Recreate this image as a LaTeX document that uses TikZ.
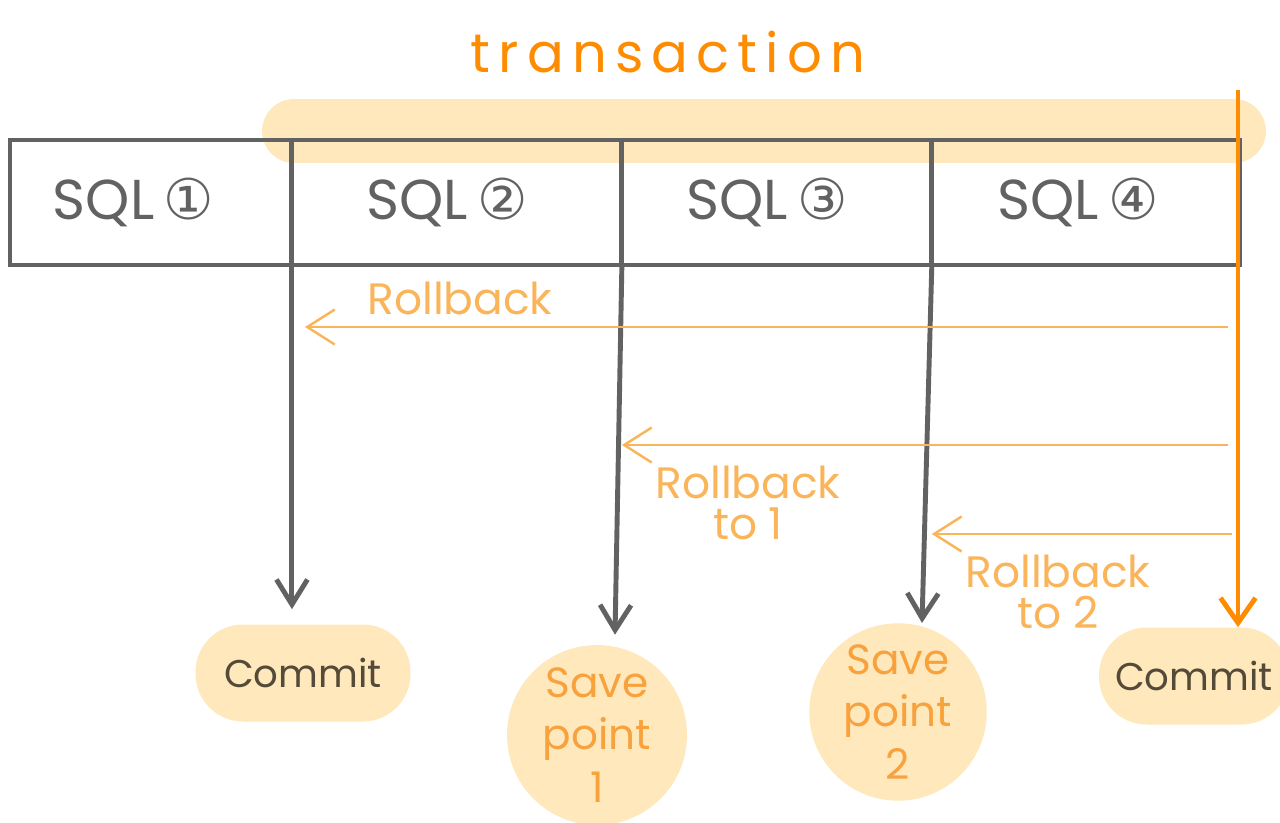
\documentclass[tikz,border=0pt]{standalone}
\usepackage{fontspec}
\setmainfont{Poppins}
\newfontfamily\titlefont[LetterSpace=15]{Poppins}
\newfontfamily\circfont{DejaVu Sans}
\usepackage{xcolor}
\usepackage{tikz}
\usetikzlibrary{arrows.meta,positioning,calc}
\definecolor{sqlgray}    {RGB}{98,98,98}
\definecolor{bandyellow} {RGB}{254,232,188}
\definecolor{txorange}   {RGB}{255,140,0}
\definecolor{rbkorange}  {RGB}{250,180,90}
\definecolor{saveorange} {RGB}{248,162,62}
\definecolor{commitbrown}{RGB}{84,74,56}
\tikzset{
  sqlcell/.style   ={draw=sqlgray, line width=2.8pt, outer sep=0pt,
                     minimum height=2.5cm, minimum width=#1, inner sep=0pt,
                     text=sqlgray, font=\fontsize{32}{36}\selectfont},
  sqlcell/.default =6cm,
  txband/.style    ={fill=bandyellow, rounded corners=0.64cm,
                     minimum width=20.08cm, minimum height=1.28cm, inner sep=0pt},
  commitblob/.style={fill=bandyellow, rounded corners=0.95cm,
                     minimum width=#1, minimum height=1.94cm,
                     text=commitbrown, font=\fontsize{22}{26}\selectfont},
  commitblob/.default=4.3cm,
  saveblob/.style  ={circle, fill=bandyellow, inner sep=0pt,
                     minimum size=#1, align=center,
                     text=saveorange, font=\fontsize{24}{30}\selectfont},
  saveblob/.default=3.6cm,
  rbklabel/.style  ={text=rbkorange, align=center, inner sep=0pt,
                     font=\fontsize{25}{23}\selectfont},
  sqlarr/.style    ={-{Straight Barb[length=0.5cm,width=0.62cm]},
                     line width=2.8pt, draw=sqlgray},
  txarr/.style     ={-{Straight Barb[length=0.5cm,width=0.7cm]},
                     line width=2.8pt, draw=txorange},
  rbkarr/.style    ={-{Straight Barb[length=0.55cm,width=0.7cm]},
                     line width=1.4pt, draw=rbkorange},
}

\begin{document}
\begin{tikzpicture}[x=0.02cm, y=-0.02cm, node distance=0pt]
  \useasboundingbox (0,0) rectangle (1280,822);
  \clip (0,0) rectangle (1280,822);
  %% transaction band and title
  \node[txband] (band) at (764,131) {};
  \node[text=txorange, font=\titlefont\fontsize{31}{36}\selectfont] (title) at (668,52) {transaction};
  %% statements
  \node[sqlcell=5.64cm, anchor=north west] (sql1) at (10,140) {SQL\,{\circfont ①}\kern0.7cm};
  \node[sqlcell=6.6cm,  right=of sql1] (sql2) {SQL\,{\circfont ②}\kern0.4cm};
  \node[sqlcell=6.2cm,  right=of sql2] (sql3) {SQL\,{\circfont ③}\kern0.4cm};
  \node[sqlcell=6.16cm, right=of sql3] (sql4) {SQL\,{\circfont ④}\kern0.3cm};
  %% outcomes
  \node[commitblob] (commitA) at (303,673) {Commit};
  \node[saveblob] (saveA) at (597,735) {Save\\point\\1};
  \node[saveblob=3.55cm] (saveB) at (898,712) {Save\\point\\2};
  \node[commitblob=3.8cm] (commitB) at (1194,676) {Commit};
  %% rollback labels
  \node[rbklabel] (rbkA) at (460,298) {Rollback};
  \node[rbklabel] (rbkB) at (748,503) {Rollback\\to 1};
  \node[rbklabel] (rbkC) at (1058,592) {Rollback\\to 2};
  %% arrows
  \coordinate (txtop) at (1238,90);
  \coordinate (rbA) at (1228,327);
  \coordinate (rbB) at (1228,445);
  \coordinate (rbC) at (1232,534);
  \draw[sqlarr, shorten >=0.3cm] (sql1.south east) -- (sql1.south east |- commitA.north);
  \draw[sqlarr] (sql2.south east) -- ($(saveA.north)+(18,-10)$);
  \draw[sqlarr] (sql3.south east) -- ($(saveB.north)+(24,0)$);
  \draw[rbkarr, shorten >=0.26cm] (rbA) -- (rbA -| sql1.south east);
  \draw[rbkarr] (rbB) -- (rbB -| sql2.south east);
  \draw[rbkarr] (rbC) -- (rbC -| sql3.south east);
  \draw[txarr] (txtop) -- (txtop |- commitB.north);
\end{tikzpicture}
\end{document}
